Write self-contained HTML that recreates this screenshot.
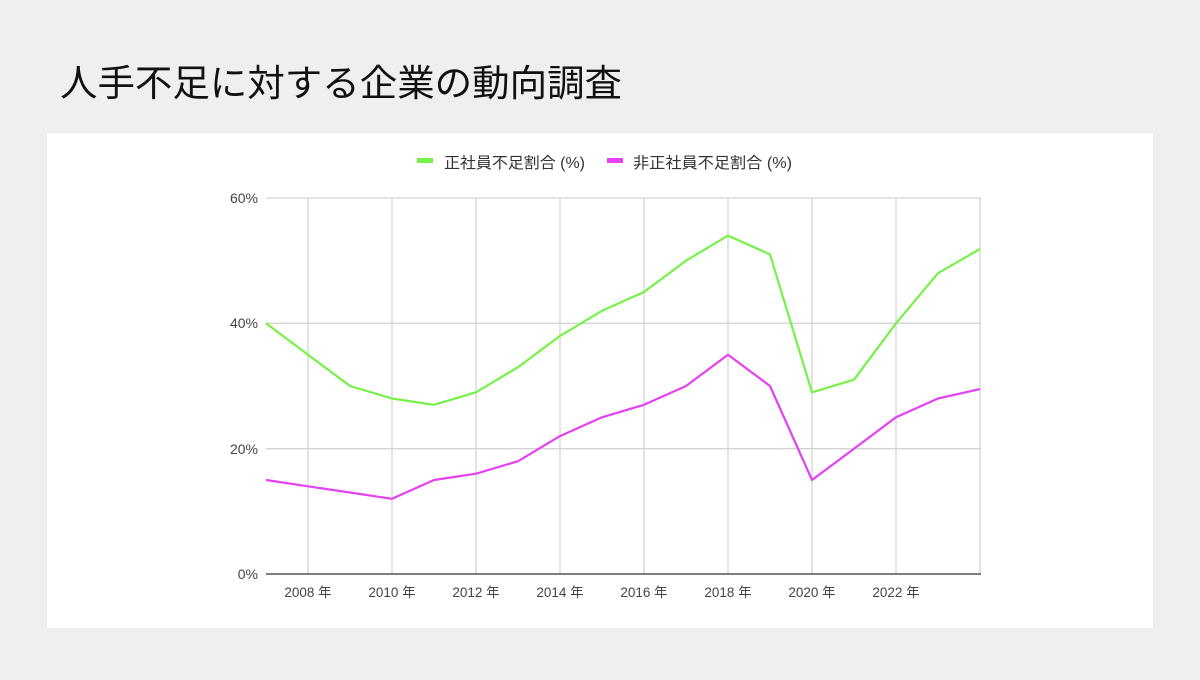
<!DOCTYPE html>
<html><head><meta charset="utf-8"><style>
body{margin:0;width:1200px;height:675px;background:#efefef;overflow:hidden;font-family:"Liberation Sans","Noto Sans CJK JP",sans-serif}
</style></head><body>
<svg width="1200" height="675" xmlns="http://www.w3.org/2000/svg" font-family="Liberation Sans, Noto Sans CJK JP, sans-serif">
<rect width="1200" height="675" fill="#efefef"/>
<text x="60" y="96" font-size="37" fill="#111" textLength="562" lengthAdjust="spacingAndGlyphs">人手不足に対する企業の動向調査</text>
<rect x="47" y="133" width="1106" height="495" fill="#fff"/>
<rect x="417" y="158" width="16" height="5" fill="#76f147"/>
<text x="444" y="168" font-size="15.5" fill="#333" textLength="141" lengthAdjust="spacingAndGlyphs">正社員不足割合 (%)</text>
<rect x="607" y="158" width="16" height="5" fill="#e541f3"/>
<text x="633" y="168" font-size="15.5" fill="#333" textLength="159" lengthAdjust="spacingAndGlyphs">非正社員不足割合 (%)</text>
<g stroke="#d4d4d4" stroke-width="1.3">
<line x1="266" y1="198" x2="981" y2="198"/><line x1="266" y1="323.3" x2="981" y2="323.3"/><line x1="266" y1="448.7" x2="981" y2="448.7"/>
<line x1="308" y1="198" x2="308" y2="574"/><line x1="392" y1="198" x2="392" y2="574"/><line x1="476" y1="198" x2="476" y2="574"/><line x1="560" y1="198" x2="560" y2="574"/><line x1="644" y1="198" x2="644" y2="574"/><line x1="728" y1="198" x2="728" y2="574"/><line x1="812" y1="198" x2="812" y2="574"/><line x1="896" y1="198" x2="896" y2="574"/><line x1="980" y1="198" x2="980" y2="574"/>
</g>
<line x1="266" y1="574" x2="981" y2="574" stroke="#333" stroke-width="1.3"/>
<g font-size="14" fill="#444" text-anchor="end">
<text x="258" y="203">60%</text><text x="258" y="328">40%</text><text x="258" y="454">20%</text><text x="258" y="579">0%</text>
</g>
<g font-size="13.5" fill="#444" text-anchor="middle">
<text x="308" y="597">2008 年</text><text x="392" y="597">2010 年</text><text x="476" y="597">2012 年</text><text x="560" y="597">2014 年</text><text x="644" y="597">2016 年</text><text x="728" y="597">2018 年</text><text x="812" y="597">2020 年</text><text x="896" y="597">2022 年</text>
</g>
<polyline fill="none" stroke="#76f147" stroke-width="2.2" stroke-linejoin="round" points="266,323.3 308,354.7 350,386 392,398.5 434,404.8 476,392.3 518,367.2 560,335.9 602,310.8 644,292 686,260.7 728,235.6 770,254.4 812,392.3 854,379.7 896,323.3 938,273.2 980,249"/>
<polyline fill="none" stroke="#e541f3" stroke-width="2.2" stroke-linejoin="round" points="266,480 308,486.3 350,492.5 392,498.8 434,480 476,473.7 518,461.2 560,436.1 602,417.3 644,404.8 686,386 728,354.7 770,386 812,480 854,448.7 896,417.3 938,398.5 980,389.1"/>
</svg>
</body></html>
